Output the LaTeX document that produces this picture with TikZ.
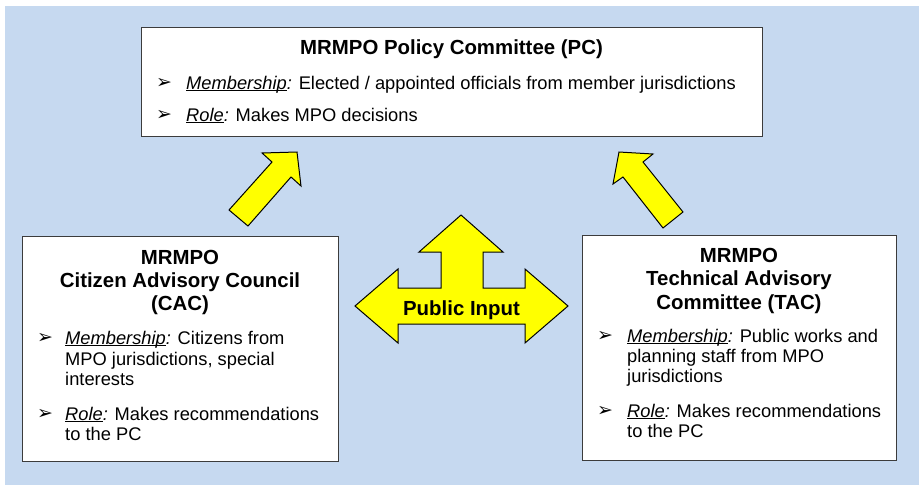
\documentclass[tikz,border=0pt]{standalone}
\usepackage{fontspec}
\setmainfont{Liberation Sans}
\newfontfamily\dingfont{DejaVu Sans}
\definecolor{bgblue}{RGB}{198,217,240}
\definecolor{arrowyellow}{RGB}{255,255,0}
\definecolor{boxline}{RGB}{60,60,60}
\newcommand\myul[1]{\setbox0\hbox{#1}\rlap{\rule[-2.4pt]{\wd0}{1.1pt}}\box0}
\newcommand\bulletglyph{\char"27A2}
\begin{document}
\begin{tikzpicture}[x=1pt,y=-1pt,
  box/.style={draw=boxline, line width=1pt, fill=white, inner sep=0, anchor=north west},
  title/.style={font=\fontsize{20.4}{23.5}\selectfont\bfseries, inner sep=0, anchor=base},
  body/.style={font=\fontsize{18.3}{21}\selectfont, inner sep=0, anchor=base west},
  bul/.style={font=\dingfont\fontsize{19}{19}\selectfont, inner sep=0, anchor=base west},
  blockarrow/.style={fill=arrowyellow, draw=black, line width=1pt, line join=miter}]

\useasboundingbox (0,0) rectangle (919,485);
\fill[bgblue] (5,6) rectangle (919,485);

% ---------- boxes ----------
\node[box, minimum width=621pt, minimum height=109pt] (pc) at (141,27) {};
\node[box, minimum width=316pt, minimum height=225pt] (cac) at (22,236) {};
\node[box, minimum width=314pt, minimum height=225pt] (tac) at (582,235) {};

% ---------- PC text ----------
\node[title] (pct) at (451.5,54.5) {MRMPO Policy Committee (PC)};
\node[bul] (pcb1) at (156,88) {\bulletglyph};
\node[body] (pcm) at (186,89) {{\itshape\myul{Membership}:} Elected / appointed officials from member jurisdictions};
\node[bul] (pcb2) at (156,120) {\bulletglyph};
\node[body] (pcr) at (186,121) {{\itshape\myul{Role}:} Makes MPO decisions};

% ---------- CAC text ----------
\node[title] (cact1) at (180,264) {MRMPO};
\node[title] (cact2) at (180,287) {Citizen Advisory Council};
\node[title] (cact3) at (180,310) {(CAC)};
\node[bul] (cacb1) at (37,343) {\bulletglyph};
\node[body] (cacm1) at (65,344) {{\itshape\myul{Membership}:} Citizens from};
\node[body] (cacm2) at (65,365) {MPO jurisdictions, special};
\node[body] (cacm3) at (65,385) {interests};
\node[bul] (cacb2) at (37,419) {\bulletglyph};
\node[body] (cacr1) at (65,420) {{\itshape\myul{Role}:} Makes recommendations};
\node[body] (cacr2) at (65,440) {to the PC};

% ---------- TAC text ----------
\node[title] (tact1) at (739,262) {MRMPO};
\node[title] (tact2) at (739,285.5) {Technical Advisory};
\node[title] (tact3) at (739,309) {Committee (TAC)};
\node[bul] (tacb1) at (597,341) {\bulletglyph};
\node[body] (tacm1) at (627,342) {{\itshape\myul{Membership}:} Public works and};
\node[body] (tacm2) at (627,362) {planning staff from MPO};
\node[body] (tacm3) at (627,382) {jurisdictions};
\node[bul] (tacb2) at (597,416) {\bulletglyph};
\node[body] (tacr1) at (627,417) {{\itshape\myul{Role}:} Makes recommendations};
\node[body] (tacr2) at (627,437) {to the PC};

% ---------- block arrows ----------
\draw[blockarrow] (262,153) -- (297,152) -- (301,186) -- (291,177) -- (248,226) -- (229,210) -- (272,162) -- cycle;
\draw[blockarrow] (619,152) -- (653,154) -- (643,162) -- (683,212) -- (663,228) -- (623,177) -- (613,184) -- cycle;
\draw[blockarrow] (461,215) -- (503,252) -- (483,252) -- (483,288) -- (525,288) -- (525,269)
  -- (568,306) -- (525,343) -- (525,324) -- (398,324) -- (398,343) -- (355,306) -- (398,269)
  -- (398,288) -- (441,288) -- (441,252) -- (419,252) -- cycle;
\node[title] (pi) at (461.5,315) {Public Input};
\end{tikzpicture}
\end{document}
